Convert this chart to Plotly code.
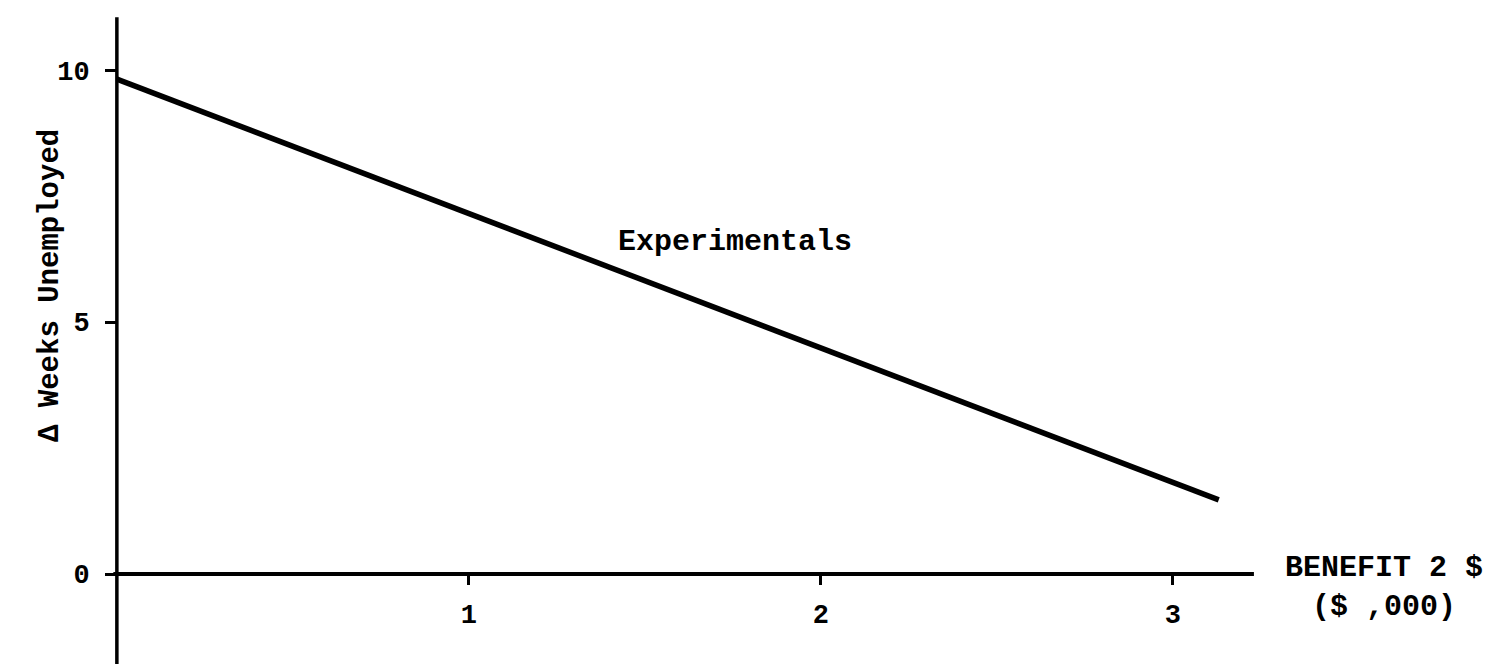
import plotly.graph_objects as go

# Benefit (thousands of dollars) vs. change in weeks unemployed
benefit = [0.0, 3.13]
delta_weeks = [9.82, 1.47]
series_name = "Experimentals"

x_ticks = [1, 2, 3]
y_ticks = [0, 5, 10]

W, H = 1500, 664
x_range = [-0.332, 3.929]
y_range = [-1.786, 11.39]

FONT = "Liberation Mono, Courier New, monospace"


def font(size):
    return dict(family=FONT, size=size, color="black", weight="bold")


fig = go.Figure()

fig.add_trace(go.Scatter(
    x=benefit, y=delta_weeks, mode="lines", name=series_name,
    line=dict(color="black", width=5.5), showlegend=False,
))

# axis lines drawn in data space so they stop where the originals stop
fig.add_shape(type="line", x0=0, x1=0, y0=-2, y1=11.05, xref="x", yref="y",
              line=dict(color="black", width=3.5))
fig.add_shape(type="line", x0=-0.01, x1=3.23, y0=0, y1=0, xref="x", yref="y",
              line=dict(color="black", width=4))

fig.add_annotation(x=1.756, y=6.59, xref="x", yref="y", text=series_name,
                   showarrow=False, font=font(30))
fig.add_annotation(x=3.60, y=-0.27, xref="x", yref="y",
                   text="BENEFIT 2 $<br>($ ,000)", showarrow=False, align="center",
                   font=font(30))
fig.add_annotation(x=32 / W, y=0.57, xref="paper", yref="paper",
                   text="Δ Weeks Unemployed", textangle=-90, showarrow=False,
                   font=font(29))

fig.update_layout(
    width=W, height=H,
    margin=dict(l=0, r=0, t=0, b=0),
    paper_bgcolor="white", plot_bgcolor="white",
    xaxis=dict(
        range=x_range, anchor="free", position=(H - 574) / H,
        tickvals=x_ticks, ticktext=[str(v) for v in x_ticks],
        ticks="outside", ticklen=10, tickwidth=3, tickcolor="black",
        showline=False, showgrid=False, zeroline=False,
        tickfont=font(27),
        ticklabelstandoff=6,
    ),
    yaxis=dict(
        range=y_range, anchor="free", position=117 / W,
        tickvals=y_ticks, ticktext=[str(v) for v in y_ticks],
        ticks="outside", ticklen=12, tickwidth=3, tickcolor="black",
        showline=False, showgrid=False, zeroline=False,
        tickfont=font(27),
        ticklabelstandoff=10,
    ),
)

fig.write_html("out.html")
